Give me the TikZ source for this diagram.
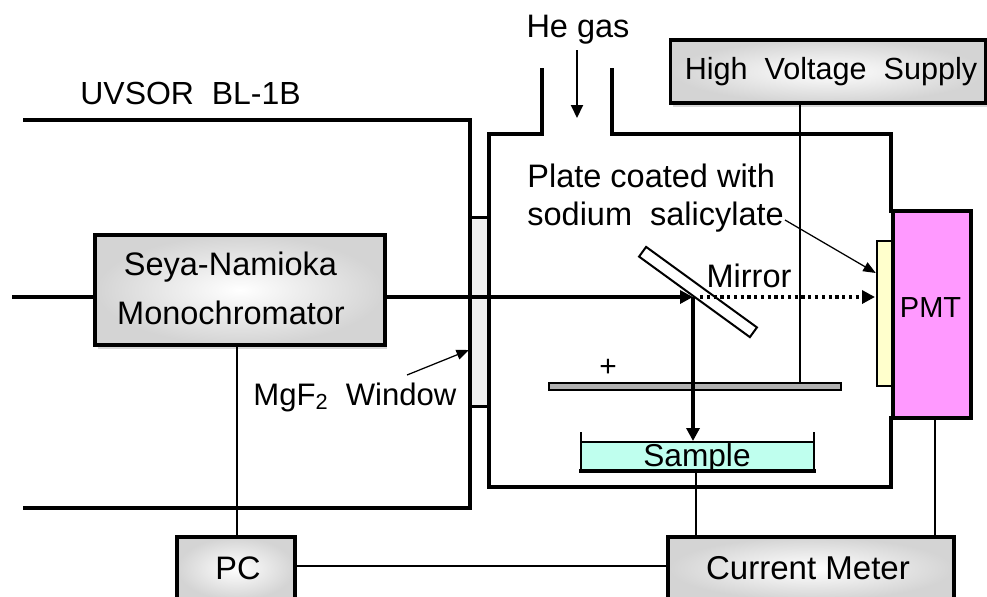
\documentclass[tikz,border=0pt]{standalone}
\usepackage{fontspec}
\setmainfont{Liberation Sans}
\usetikzlibrary{positioning}
\usetikzlibrary{shadows}
\usetikzlibrary{arrows.meta}
\definecolor{pmtpink}{RGB}{255,153,255}
\definecolor{coatyellow}{RGB}{255,255,204}
\definecolor{samplegreen}{RGB}{191,255,238}
\tikzset{
  panelbox/.style={draw=black,line width=0.07cm,inner color=white,outer color=black!17,
    drop shadow={shadow xshift=0.05cm,shadow yshift=-0.08cm,fill=black!30},font=\fontsize{18.5}{22}\selectfont,inner sep=0pt,align=center},
  wall/.style={line width=0.065cm,line cap=rect},
  wire/.style={line width=0.04cm},
  beam/.style={line width=0.065cm,-{Triangle[length=0.26cm,width=0.26cm]}},
  pointer/.style={line width=0.025cm,-{Triangle[length=0.25cm,width=0.2cm]}},
  lbl/.style={font=\fontsize{18.5}{22}\selectfont,inner sep=0pt,align=left}
}
\begin{document}
\begin{tikzpicture}[x=0.02cm,y=-0.02cm]
\useasboundingbox (0,0) rectangle (987,596);
% vacuum parts
\draw[fill=black!6,line width=0.06cm] (470,217) rectangle (489,406);
\draw[wall] (25,120) -- (470,120) -- (470,508) -- (25,508);
\draw[wall] (542,70) -- (542,134) -- (489,134) -- (489,487) -- (891,487) -- (891,418);
\draw[wall] (612,70) -- (612,134) -- (891,134) -- (891,211);
% boxes
\node[panelbox,minimum width=5.8cm,minimum height=2.2cm] (mono) at (240,290) {};
\node[lbl] (monotop) at (230.5,267) {Seya-Namioka};
\node[lbl] (monobot) at (231,313) {Monochromator};
\node[panelbox,minimum width=6.3cm,minimum height=1.26cm] (hv) at (828,71.5) {};
\node[lbl,font=\fontsize{17.4}{22}\selectfont] (hvtxt) at (831,72) {High~ Voltage~ Supply};
\node[panelbox,minimum width=2.36cm,minimum height=1.26cm] (pc) at (236,568.5) {};
\node[lbl] (pctxt) at (238,568) {PC};
\node[panelbox,minimum width=5.72cm,minimum height=1.26cm] (meter) at (811,568.5) {};
\node[lbl,font=\fontsize{18.8}{22}\selectfont] (metertxt) at (808,568) {Current Meter};
% detector
\node[draw,fill=coatyellow,line width=0.05cm,minimum width=0.32cm,minimum height=2.9cm,inner sep=0pt] (coat) at (885,313.5) {};
\node[draw,fill=pmtpink,line width=0.07cm,minimum width=1.56cm,minimum height=4.14cm,inner sep=0pt] (pmt) at (932,314.5) {};
\node[lbl,font=\fontsize{16.5}{20}\selectfont] (pmttxt) at (930.5,308) {PMT};
% inside the chamber
\node[draw,fill=white,line width=0.04cm,rotate=-36,minimum width=2.74cm,minimum height=0.24cm,inner sep=0pt] (mirror) at (698,292) {};
\node[draw,fill=black!30,line width=0.04cm,minimum width=5.84cm,minimum height=0.14cm,inner sep=0pt] (plate) at (695,386) {};
\node[draw=none,fill=samplegreen,minimum width=4.66cm,minimum height=0.6cm,inner sep=0pt] (sample) at (697.5,457.5) {};
\node[lbl,font=\fontsize{18}{20}\selectfont] (sampletxt) at (697,458) {Sample};
\draw[wire] (581,432) -- (581,471);
\draw[wire] (814,432) -- (814,471);
\draw[wire] (581,442) -- (814,442);
\draw[wall] (581,471) -- (814,471);
% beams
\coordinate (hit) at (693,297);
\coordinate (start) at (12,297);
\draw[line width=0.08cm] (start) -- (95,297);
\draw[beam] (mono.east |- hit) -- (hit);
\draw[beam] (hit) -- (693,441);
\draw[line width=0.065cm,dotted,-{Triangle[length=0.26cm,width=0.26cm]}] (700,297) -- (875,297);
% wires
\draw[wire] (hv.south -| 800,0) -- (800,382);
\draw[wire] (mono.south -| 237,0) -- (pc.north -| 237,0);
\draw[wire] (pc.east |- 0,566) -- (meter.west |- 0,566);
\draw[wire] (696,471) -- (696,537);
\draw[wire] (935,418) -- (935,537);
% labels
\node[lbl] (hegas) at (578,30) {He gas};
\draw[line width=0.04cm,-{Triangle[length=0.26cm,width=0.24cm]}] (577,50) -- (577,118);
\node[lbl,anchor=west,font=\fontsize{18.2}{22}\selectfont] (bl) at (80,93) {UVSOR~ BL-1B};
\node[lbl,anchor=west] (coatlbl) at (527,198) {Plate coated with\\sodium~ salicylate};
\draw[pointer] (785,220) -- (coat.west |- 0,273);
\node[lbl] (mirrorlbl) at (749,276) {Mirror};
\node[lbl,anchor=west,font=\fontsize{17.7}{22}\selectfont] (mgf) at (253,397) {MgF\textsubscript{2}~ Window};
\draw[pointer] (407,375) -- (469,350);
\node[font=\fontsize{17}{18}\selectfont,inner sep=0pt] (plus) at (608,368) {+};
\end{tikzpicture}
\end{document}
